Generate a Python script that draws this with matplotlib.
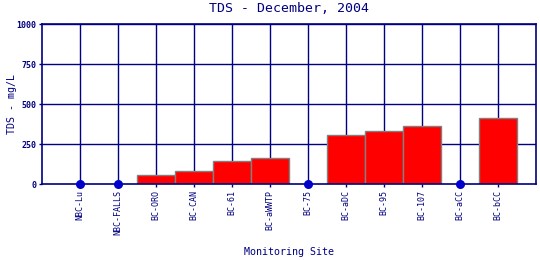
import matplotlib
matplotlib.use("Agg")
import matplotlib.pyplot as plt

sites = ["NBC-Lu", "NBC-FALLS", "BC-ORO", "BC-CAN", "BC-61", "BC-aWWTP",
         "BC-75", "BC-aDC", "BC-95", "BC-107", "BC-aCC", "BC-bCC"]
tds = [0, 0, 54, 79, 142, 160, 0, 306, 331, 362, 0, 412]
yticks = [0, 250, 500, 750, 1000]

navy = "#000080"
plt.rcParams['font.family'] = ['DejaVu Sans Mono']

fig = plt.figure(figsize=(5.4, 2.6), dpi=100)
ax = fig.add_axes([42/540, 1-184/260, (536-42)/540, 160/260])

x = list(range(len(sites)))
for xi in x:
    ax.axvline(xi, color=navy, lw=1.0, zorder=1)
for yv in yticks[1:]:
    ax.axhline(yv, color=navy, lw=1.0, zorder=1)

bx = [xi for xi, v in zip(x, tds) if v > 0]
bv = [v for v in tds if v > 0]
ax.bar(bx, bv, width=1.0, color="#ff0000", edgecolor="#808080", linewidth=1.0, zorder=2)
zx = [xi for xi, v in zip(x, tds) if v == 0]
zv = [v for v in tds if v == 0]
ax.scatter(zx, zv, s=30, color="#0000cc", zorder=4, clip_on=False)

ax.set_xlim(-1, 12)
ax.set_ylim(0, 1000)
ax.set_xticks(x)
ax.set_xticklabels(sites, rotation=90, fontsize=6, color=navy)
ax.set_yticks(yticks)
ax.set_yticklabels([str(v) for v in yticks], fontsize=6, color=navy, fontweight='bold')
ax.tick_params(axis='both', length=2, color=navy, width=1, pad=2)
for s in ax.spines.values():
    s.set_color(navy)
    s.set_linewidth(1.2)
fig.text(289/540, 1-9/260, "TDS - December, 2004", fontsize=9.5, color=navy,
         ha='center', va='center')
fig.text(12/540, 1-104/260, "TDS - mg/L", fontsize=7.2, color=navy,
         ha='center', va='center', rotation=90)
fig.text(289/540, 1-252/260, "Monitoring Site", fontsize=7.2, color=navy,
         ha='center', va='center')

fig.savefig("out.png", dpi=100)
